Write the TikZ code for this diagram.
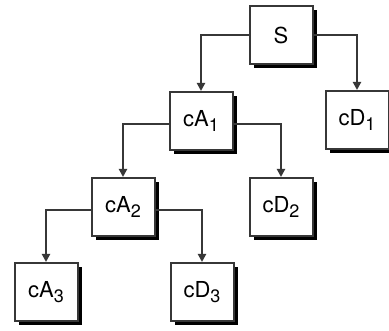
\documentclass[tikz,border=0pt]{standalone}
\usepackage{fontspec}
\setmainfont{TeX Gyre Heros}
\usetikzlibrary{arrows.meta,shadows}
\definecolor{edgecol}{RGB}{55,55,55}
\begin{document}
\begin{tikzpicture}[x=1pt,y=1pt,
  box/.style={draw=edgecol, line width=2pt, fill=white, minimum width=63pt, minimum height=58pt,
    inner sep=0pt, font=\fontsize{22}{26}\selectfont,
    drop shadow={shadow xshift=4pt, shadow yshift=-4pt, fill=black, opacity=1}},
  conn/.style={draw=edgecol, line width=2pt, -{Triangle[length=8pt,width=8pt]}}]
\useasboundingbox (0,0) rectangle (389,331);
\fill[white] (0,0) rectangle (389,331);
\newcommand{\sbs}[1]{\raisebox{-0.45ex}{\fontsize{18}{20}\selectfont #1}}
\node[box] (S) at (281,296) {S};
\node[box] (cA1) at (201,210) {cA\sbs{1}};
\node[box] (cD1) at (357,211) {cD\sbs{1}};
\node[box] (cA2) at (123,124) {cA\sbs{2}};
\node[box] (cD2) at (281,124) {cD\sbs{2}};
\node[box] (cA3) at (46,39) {cA\sbs{3}};
\node[box] (cD3) at (202,39) {cD\sbs{3}};
\draw[conn] (S.west) -| (cA1.north);
\draw[conn] (S.east) -| (cD1.north);
\draw[conn] ([yshift=-3pt]cA1.west) -| (cA2.north);
\draw[conn] ([yshift=-3pt]cA1.east) -| (cD2.north);
\draw[conn] ([yshift=-3pt]cA2.west) -| (cA3.north);
\draw[conn] ([yshift=-3pt]cA2.east) -| (cD3.north);
\end{tikzpicture}
\end{document}
